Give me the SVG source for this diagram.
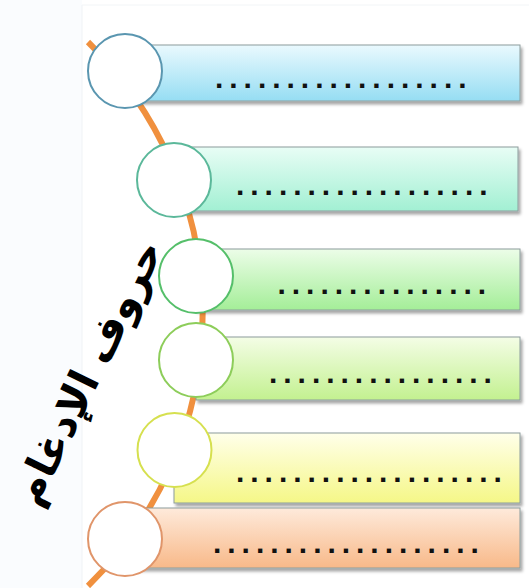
<svg xmlns="http://www.w3.org/2000/svg" width="529" height="588" viewBox="0 0 529 588">
<defs>
<linearGradient id="g1" x1="0" y1="0" x2="0" y2="1"><stop offset="0" stop-color="#EAF9FE"/><stop offset="1" stop-color="#96DDF3"/></linearGradient>
<linearGradient id="g2" x1="0" y1="0" x2="0" y2="1"><stop offset="0" stop-color="#E8FDF5"/><stop offset="1" stop-color="#A2F0D3"/></linearGradient>
<linearGradient id="g3" x1="0" y1="0" x2="0" y2="1"><stop offset="0" stop-color="#ECFDE8"/><stop offset="1" stop-color="#A4EE98"/></linearGradient>
<linearGradient id="g4" x1="0" y1="0" x2="0" y2="1"><stop offset="0" stop-color="#F4FDE6"/><stop offset="1" stop-color="#C3F190"/></linearGradient>
<linearGradient id="g5" x1="0" y1="0" x2="0" y2="1"><stop offset="0" stop-color="#FFFFEA"/><stop offset="1" stop-color="#F5F787"/></linearGradient>
<linearGradient id="g6" x1="0" y1="0" x2="0" y2="1"><stop offset="0" stop-color="#FEEADB"/><stop offset="1" stop-color="#F8B989"/></linearGradient>
<filter id="sh" x="-5%" y="-20%" width="115%" height="150%"><feDropShadow dx="2" dy="3" stdDeviation="1.8" flood-color="#000" flood-opacity="0.35"/></filter>
</defs>
<style>
.bar{stroke:#8C9C9C;stroke-width:1;filter:url(#sh)}
.circ{fill:#FFFFFF;stroke-width:2}
.dots{font-family:"Liberation Sans",Arial,sans-serif;font-weight:bold;font-size:30px;letter-spacing:5.97px;fill:#111}
.title{font-family:"DejaVu Sans",sans-serif;font-weight:bold;font-size:42px;fill:#000}
</style>
<rect x="0" y="0" width="529" height="588" fill="#FFFFFF"/>
<rect x="0" y="0" width="82" height="588" fill="#FAFCFE"/>
<line x1="82" y1="5" x2="82" y2="588" stroke="#F0F3F6" stroke-width="1"/>
<line x1="82" y1="5" x2="529" y2="5" stroke="#F2F5F7" stroke-width="1"/>
<g id="connectors">
<path d="M 88 42 A 380 380 0 0 1 88 586" fill="none" stroke="#F0903E" stroke-width="6"/>
</g>
<g id="node1">
<rect class="bar" x="125" y="45" width="395" height="56" fill="url(#g1)"/>
<circle class="circ" cx="125" cy="71" r="37" stroke="#5A96B0"/>
<text class="dots" x="215" y="88">..................</text>
</g>
<g id="node2">
<rect class="bar" x="174" y="147" width="344" height="64" fill="url(#g2)"/>
<circle class="circ" cx="174" cy="180" r="37" stroke="#5BB89A"/>
<text class="dots" x="236" y="195">..................</text>
</g>
<g id="node3">
<rect class="bar" x="196" y="249" width="324" height="61" fill="url(#g3)"/>
<circle class="circ" cx="196" cy="276" r="37" stroke="#55BF6A"/>
<text class="dots" x="277.5" y="294">...............</text>
</g>
<g id="node4">
<rect class="bar" x="196" y="337" width="324" height="63" fill="url(#g4)"/>
<circle class="circ" cx="196" cy="360" r="37" stroke="#8DCD5A"/>
<text class="dots" x="269" y="383">................</text>
</g>
<g id="node5">
<rect class="bar" x="174" y="433" width="346" height="70" fill="url(#g5)"/>
<circle class="circ" cx="174.5" cy="450" r="37" stroke="#D6E04F"/>
<text class="dots" x="236" y="482">...................</text>
</g>
<g id="node6">
<rect class="bar" x="125" y="508" width="395" height="60" fill="url(#g6)"/>
<circle class="circ" cx="125" cy="539" r="37" stroke="#E0956A"/>
<text class="dots" x="213" y="553">...................</text>
</g>
<g id="title">
<text class="title" x="88" y="372" text-anchor="middle" dominant-baseline="central" transform="rotate(-64 88 372)">حروف الإدغام</text>
</g>
</svg>
